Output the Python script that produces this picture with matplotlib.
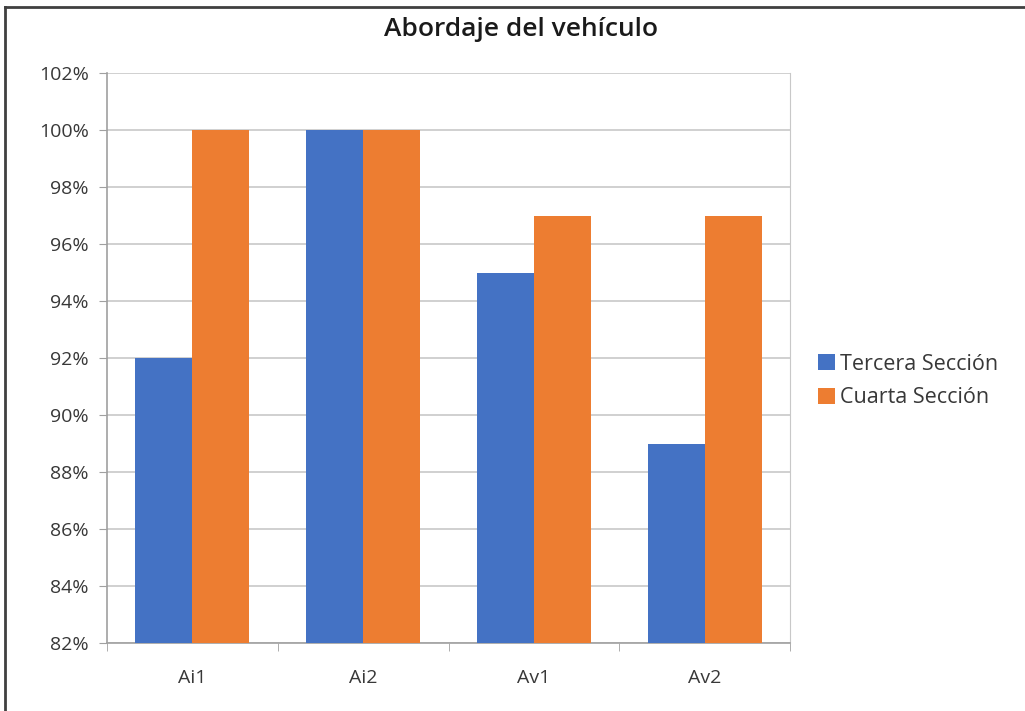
import matplotlib
matplotlib.use("Agg")
import matplotlib.pyplot as plt
import numpy as np
from matplotlib.lines import Line2D

categories = ["Ai1", "Ai2", "Av1", "Av2"]
tercera = [92, 100, 95, 89]
cuarta = [100, 100, 97, 97]
series_names = ["Tercera Sección", "Cuarta Sección"]
yticks = [82, 84, 86, 88, 90, 92, 94, 96, 98, 100, 102]

plt.rcParams['font.family'] = ['Open Sans', 'DejaVu Sans']

fig = plt.figure(figsize=(10.25, 7.11), dpi=100)
ax = fig.add_axes([107/1025, 1-643/711, (790-107)/1025, (643-73)/711])

x = np.arange(len(categories))
w = 1/3
ax.bar(x - w/2, tercera, width=w, color="#4472C4", label=series_names[0], zorder=3)
ax.bar(x + w/2, cuarta, width=w, color="#ED7D31", label=series_names[1], zorder=3)

ax.set_xlim(-0.5, len(categories) - 0.5)
ax.set_ylim(82, 102)
ax.set_yticks(yticks)
ax.set_yticklabels([f"{v}%" for v in yticks], fontsize=14, color="#383838")
ax.set_xticks(x)
ax.set_xticklabels(categories, fontsize=14, color="#383838")
ax.tick_params(axis='x', length=0, pad=19)
ax.tick_params(axis='y', length=6, color="#A0A0A0", pad=7)
# category boundary ticks
ax.set_xticks(np.arange(-0.5, len(categories)), minor=True)
ax.tick_params(axis='x', which='minor', length=6, color="#A0A0A0", direction='out')

ax.grid(axis='y', color="#C8C8C8", linewidth=1.2, zorder=0)
ax.spines['top'].set_visible(False)
ax.spines['right'].set_color("#C8C8C8")
ax.spines['left'].set_color("#A0A0A0")
ax.spines['bottom'].set_color("#A0A0A0")
ax.spines['left'].set_linewidth(1.2)
ax.spines['bottom'].set_linewidth(1.2)

fig.text(521/1025, 1-30/711, "Abordaje del vehículo", ha='center', va='center',
         fontsize=19, fontweight='semibold', color="#1a1a1a")

fig.legend(loc='center left', bbox_to_anchor=(799/1025, 1-381/711), frameon=False,
           fontsize=15.5, handlelength=0.75, handleheight=0.75, handletextpad=0.25,
           labelspacing=0.6, labelcolor="#383838")

# screenshot border
fig.add_artist(Line2D([5/1025, 1], [1-7/711, 1-7/711], transform=fig.transFigure, color="#404040", lw=2))
fig.add_artist(Line2D([5/1025, 5/1025], [0, 1-7/711], transform=fig.transFigure, color="#404040", lw=2))

fig.savefig("out.png", dpi=100)
